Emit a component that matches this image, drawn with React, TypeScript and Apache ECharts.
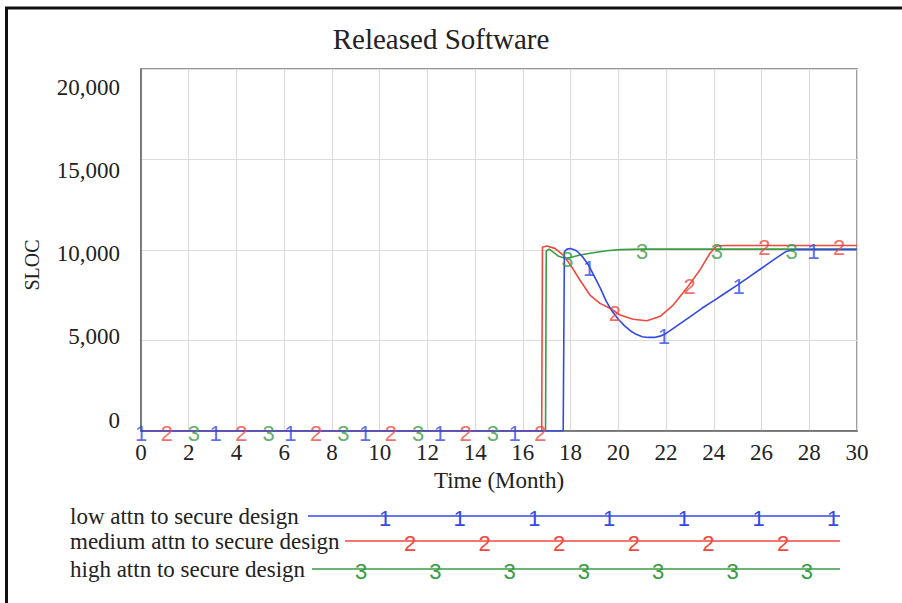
import React, { useEffect, useRef } from "react";
import * as echarts from "echarts";

// Released software (SLOC) over time, [month, SLOC]
const lowAttn: [number, number][] = [
  [0, 0], [17.69, 0], [17.74, 9900], [17.85, 10050], [18.0, 10080], [18.25, 9960],
  [18.5, 9630], [18.75, 9170], [19.0, 8530], [19.25, 7880], [19.5, 7150], [19.75, 6600],
  [20.0, 6170], [20.25, 5820], [20.5, 5540], [20.75, 5340], [21.0, 5210], [21.25, 5170],
  [21.5, 5170], [21.75, 5240], [22.0, 5390], [22.5, 5850], [23.0, 6310], [23.5, 6780],
  [24.0, 7200], [24.5, 7640], [25.0, 8070], [25.5, 8530], [26.0, 8990], [26.5, 9450],
  [27.0, 9900], [27.25, 10000], [27.5, 10020], [30, 10020],
];
const mediumAttn: [number, number][] = [
  [0, 0], [16.79, 0], [16.82, 10150], [17.0, 10220], [17.34, 10090], [17.69, 9720],
  [18.04, 9080], [18.39, 8340], [18.81, 7510], [19.23, 7050], [19.65, 6780], [20.07, 6410],
  [20.62, 6170], [21.19, 6090], [21.74, 6320], [22.3, 6960], [22.86, 7880], [23.42, 8900],
  [23.84, 9820], [24.12, 10220], [24.5, 10250], [30, 10250],
];
const highAttn: [number, number][] = [
  [0, 0], [16.95, 0], [16.98, 9950], [17.1, 10050], [17.3, 9850], [17.5, 9650],
  [17.76, 9540], [18.0, 9580], [18.39, 9720], [18.95, 9850], [19.5, 9960], [20.1, 10020],
  [21.0, 10050], [30, 10050],
];

// Months at which each run carries its number tag
const lowTagMonths = [0, 3.13, 6.26, 9.39, 12.52, 15.65, 18.78, 21.91, 25.04, 28.17];
const mediumTagMonths = [1.08, 4.21, 7.34, 10.47, 13.6, 16.73, 19.86, 22.99, 26.12, 29.25];
const highTagMonths = [2.22, 5.35, 8.48, 11.61, 14.74, 17.87, 21.0, 24.13, 27.26];

const runNames = [
  "low attn to secure design",
  "medium attn to secure design",
  "high attn to secure design",
];
const runTags = ["1", "2", "3"];
const yTickLabels = ["0", "5,000", "10,000", "15,000", "20,000"];

const COLORS = ["#3349e6", "#f0483e", "#3a9b42"];
const SERIF = "'Liberation Serif', 'Times New Roman', serif";
const SANS = "'Liberation Sans', Arial, sans-serif";

// Value of a run at month t (on the drawn polyline)
function valueAt(data: [number, number][], t: number): number {
  for (let i = 1; i < data.length; i++) {
    const [t0, v0] = data[i - 1];
    const [t1, v1] = data[i];
    if (t >= t0 && t <= t1) {
      if (t1 === t0) return v1;
      return v0 + ((v1 - v0) * (t - t0)) / (t1 - t0);
    }
  }
  return data[data.length - 1][1];
}

export default function App() {
  const ref = useRef<HTMLDivElement>(null);

  useEffect(() => {
    if (!ref.current) return;
    const chart = echarts.init(ref.current, undefined, { renderer: "svg" });

    const runs = [lowAttn, mediumAttn, highAttn];
    const tags = [lowTagMonths, mediumTagMonths, highTagMonths];

    // label vertical nudges for the value axis
    const labelShift = (i: number) => -11 + i * 7.25;
    const rich: Record<string, any> = {};
    yTickLabels.forEach((_, i) => {
      const d = labelShift(i);
      rich["r" + i] = {
        fontFamily: SERIF,
        fontSize: 23,
        color: "#222",
        padding: d >= 0 ? [2 * d, 0, 0, 0] : [0, 0, -2 * d, 0],
      };
    });

    const lineSeries = [2, 1, 0].map((i) => ({
      type: "line",
      name: runNames[i],
      data: runs[i],
      symbol: "none",
      lineStyle: { color: COLORS[i], width: 1.6 },
      z: 2 + (2 - i),
      silent: true,
    }));

    const tagSeries = [2, 1, 0].map((i) => ({
      type: "scatter",
      name: runNames[i] + " tags",
      data: tags[i].map((t) => [t, valueAt(runs[i], t)]),
      symbol: "circle",
      symbolSize: 1,
      itemStyle: { color: "rgba(0,0,0,0)" },
      label: {
        show: true,
        position: "inside",
        formatter: runTags[i],
        color: COLORS[i],
        fontFamily: SANS,
        fontSize: 22,
        offset: [0, 2],
      },
      z: 10,
      silent: true,
    }));

    // legend rows
    const legendRows = [
      { y: 516, lineStart: 308, first: 385, step: 74.7, count: 7 },
      { y: 541, lineStart: 345, first: 410, step: 74.6, count: 6 },
      { y: 569, lineStart: 312, first: 361, step: 74.3, count: 7 },
    ];
    const legendGraphics: any[] = [];
    legendRows.forEach((row, i) => {
      legendGraphics.push({
        type: "text",
        x: 70,
        y: row.y,
        style: {
          text: runNames[i],
          font: `23px ${SERIF}`,
          fill: "#222",
          textAlign: "left",
          textVerticalAlign: "middle",
        },
      });
      legendGraphics.push({
        type: "line",
        shape: { x1: row.lineStart, y1: row.y, x2: 840, y2: row.y },
        style: { stroke: COLORS[i], lineWidth: 1.6 },
      });
      for (let k = 0; k < row.count; k++) {
        legendGraphics.push({
          type: "text",
          x: row.first + k * row.step,
          y: row.y + 2,
          style: {
            text: runTags[i],
            font: `22px ${SANS}`,
            fill: COLORS[i],
            textAlign: "center",
            textVerticalAlign: "middle",
          },
        });
      }
    });

    chart.setOption({
      animation: false,
      backgroundColor: "#ffffff",
      grid: {
        left: 141,
        right: 45,
        top: 69,
        bottom: 172,
        show: true,
        borderColor: "#777",
        borderWidth: 1.5,
        backgroundColor: "transparent",
      },
      xAxis: {
        type: "value",
        min: 0,
        max: 30,
        interval: 2,
        name: "Time (Month)",
        nameLocation: "middle",
        nameGap: 37,
        nameTextStyle: { fontFamily: SERIF, fontSize: 23, color: "#222" },
        axisLine: { show: true, lineStyle: { color: "#666", width: 1.5 } },
        axisTick: { show: false },
        axisLabel: { fontFamily: SERIF, fontSize: 23, color: "#222", margin: 10 },
        splitLine: { show: true, lineStyle: { color: "#dcdcdc", width: 1.2 } },
      },
      yAxis: {
        type: "value",
        min: 0,
        max: 20000,
        interval: 5000,
        axisLine: { show: true, lineStyle: { color: "#666", width: 1.5 } },
        axisTick: { show: false },
        axisLabel: {
          margin: 21,
          formatter: (v: number) => {
            const i = Math.round(v / 5000);
            return `{r${i}|${yTickLabels[i]}}`;
          },
          rich,
        },
        splitLine: { show: true, lineStyle: { color: "#dcdcdc", width: 1.2 } },
      },
      graphic: [
        {
          type: "text",
          x: 441,
          y: 39,
          style: {
            text: "Released Software",
            font: `29px ${SERIF}`,
            fill: "#222",
            textAlign: "center",
            textVerticalAlign: "middle",
          },
        },
        {
          type: "text",
          x: 32,
          y: 265,
          rotation: Math.PI / 2,
          style: {
            text: "SLOC",
            font: `20px ${SERIF}`,
            fill: "#222",
            textAlign: "center",
            textVerticalAlign: "middle",
          },
        },
        {
          type: "line",
          shape: { x1: 5, y1: 8, x2: 902, y2: 8 },
          style: { stroke: "#111", lineWidth: 3 },
        },
        {
          type: "line",
          shape: { x1: 6.5, y1: 7, x2: 6.5, y2: 603 },
          style: { stroke: "#111", lineWidth: 3 },
        },
        ...legendGraphics,
      ],
      series: [...lineSeries, ...tagSeries],
    });

    return () => chart.dispose();
  }, []);

  return (
    <div
      ref={ref}
      style={{ position: "fixed", left: 0, top: 0, width: 902, height: 603 }}
    />
  );
}
